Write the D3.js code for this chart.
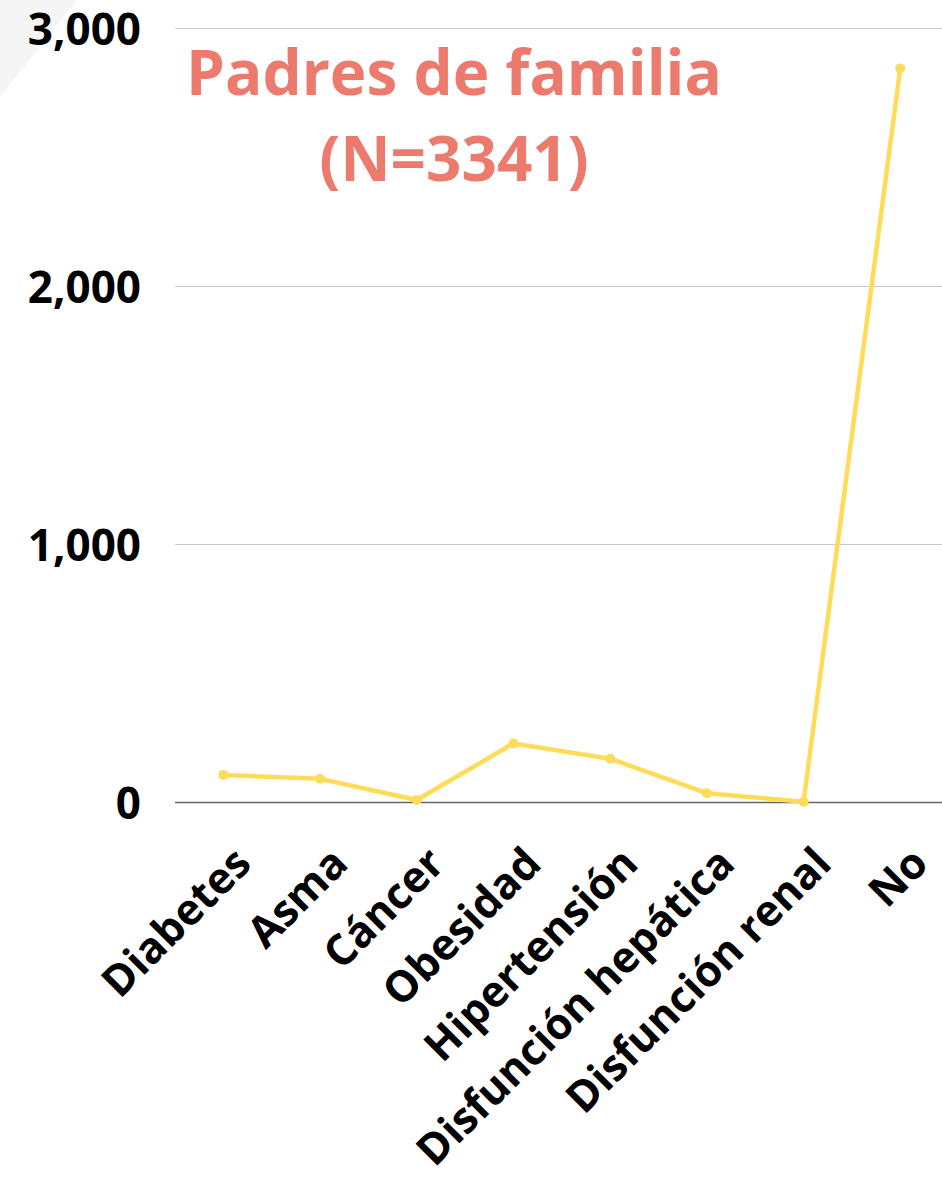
<!DOCTYPE html>
<html>
<head>
<meta charset="utf-8">
<script src="https://cdn.jsdelivr.net/npm/d3@7"></script>
<style>
  html, body { margin: 0; padding: 0; background: #fff; }
  svg { display: block; }
  text { font-family: "Open Sans", "Noto Sans", sans-serif; font-weight: 700; }
</style>
</head>
<body>
<script>
const categories = ["Diabetes", "Asma", "Cáncer", "Obesidad", "Hipertensión", "Disfunción hepática", "Disfunción renal", "No"];
const values = [105, 90, 8, 227, 168, 34, 1, 2843];
const yTicks = [0, 1000, 2000, 3000];
const titleLines = ["Padres de familia", "(N=3341)"];

const W = 942, H = 1178;
const svg = d3.select("body").append("svg").attr("width", W).attr("height", H);

// decorative corner
svg.append("path").attr("d", "M0,0 L77,0 L0,97 Z").attr("fill", "#f5f5f5");

const x = d3.scaleBand().domain(categories).range([175, 948.6]).padding(0);
const y = d3.scaleLinear().domain([0, 3000]).range([802, 28]);

// gridlines
const grid = svg.append("g").attr("transform", "translate(175,0)")
  .call(d3.axisLeft(y).tickValues(yTicks).tickSize(-(W - 175)).tickFormat(""));
grid.select(".domain").remove();
grid.selectAll(".tick line").attr("stroke", (d) => d === 0 ? "#666" : "#c8c8c8").attr("stroke-width", (d) => d === 0 ? 1.5 : 1);

// y labels
const yAxis = svg.append("g").attr("transform", "translate(141,0)")
  .call(d3.axisLeft(y).tickValues(yTicks).tickSize(0).tickPadding(0).tickFormat(d3.format(",")));
yAxis.select(".domain").remove();
yAxis.selectAll("text").attr("font-size", 44).attr("fill", "#000").attr("dy", "0.37em")
  .style("font-family", "'Open Sans', sans-serif").style("font-weight", 700);

// x labels
const xAxis = svg.append("g").attr("transform", "translate(0,802)")
  .call(d3.axisBottom(x).tickSize(0).tickPadding(0));
xAxis.select(".domain").remove();
xAxis.selectAll("text")
  .attr("font-size", 43).attr("fill", "#000")
  .attr("text-anchor", "end")
  .attr("y", 0).attr("dy", 0)
  .attr("transform", "translate(30,64) rotate(-45)")
  .style("font-family", "'Open Sans', sans-serif").style("font-weight", 700);

// line
const cx = (d) => x(d) + x.bandwidth() / 2;
const line = d3.line().x((d, i) => cx(categories[i])).y((d) => y(d));
svg.append("path").datum(values).attr("d", line)
  .attr("fill", "none").attr("stroke", "#FFDC57").attr("stroke-width", 4.5).attr("stroke-linejoin", "round");
svg.append("g").selectAll("circle").data(values).join("circle")
  .attr("cx", (d, i) => cx(categories[i])).attr("cy", (d) => y(d)).attr("r", 5).attr("fill", "#FFDC57");

// title
svg.append("g").selectAll("text").data(titleLines).join("text")
  .attr("x", 454).attr("y", (d, i) => 95 + i * 86)
  .attr("text-anchor", "middle").attr("font-size", 62).attr("fill", "#EC7B6E")
  .text((d) => d);
</script>
</body>
</html>
